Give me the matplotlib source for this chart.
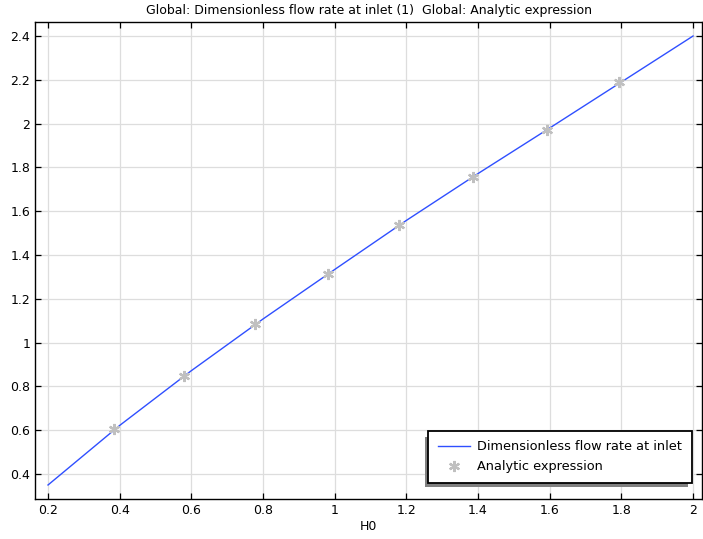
import matplotlib
matplotlib.use("Agg")
import matplotlib.pyplot as plt
from matplotlib.patches import Rectangle
from matplotlib.transforms import IdentityTransform

# line: dimensionless flow rate at inlet
h0_line = [0.2, 0.4, 0.6, 0.8, 1.0, 1.2, 1.4, 1.6, 1.8, 2.0]
q_line = [0.35, 0.622, 0.872, 1.108, 1.334, 1.558, 1.772, 1.98, 2.19, 2.40]

# markers: analytic expression
h0_pts = [0.384, 0.580, 0.778, 0.981, 1.180, 1.386, 1.592, 1.794]
q_pts = [0.604, 0.849, 1.085, 1.313, 1.537, 1.756, 1.971, 2.189]

xticks = [0.2, 0.4, 0.6, 0.8, 1, 1.2, 1.4, 1.6, 1.8, 2]
yticks = [0.4, 0.6, 0.8, 1, 1.2, 1.4, 1.6, 1.8, 2, 2.2, 2.4]

fig = plt.figure(figsize=(7.03, 5.39), dpi=100)
ax = fig.add_axes([0.0498, 0.0742, 0.9488, 0.885])

ax.plot(h0_line, q_line, color='#2f4fff', lw=1.0, label='Dimensionless flow rate at inlet')
ax.plot(h0_pts, q_pts, ls='none', marker=(6, 2, 0), ms=8, mew=1.6,
        color='#c0c0c0', label='Analytic expression')

ax.set_xlim(0.1637, 2.025)
ax.set_ylim(0.286, 2.464)
ax.set_xticks(xticks)
ax.set_xticklabels([f'{v:g}' for v in xticks])
ax.set_yticks(yticks)
ax.set_yticklabels([f'{v:g}' for v in yticks])
ax.grid(True, color='#dddddd', lw=0.9)
ax.set_axisbelow(True)
ax.tick_params(direction='in', top=True, right=True, labelsize=9, length=4, width=0.9)
for s in ax.spines.values():
    s.set_linewidth(1.0)

ax.set_xlabel('H0', fontsize=9, labelpad=2)
ax.set_title('Global: Dimensionless flow rate at inlet (1)  Global: Analytic expression',
             fontsize=9, pad=6)

# legend box placed at lower right, shadow drawn by hand (down-left offset)
leg = ax.legend(loc='lower right', bbox_to_anchor=(0.985, 0.0335), borderaxespad=0,
                fontsize=9.3, frameon=True, fancybox=False, shadow=False,
                edgecolor='black', framealpha=1, borderpad=0.75, labelspacing=0.55,
                handlelength=2.45, handletextpad=0.6)
leg.get_frame().set_linewidth(1.3)
leg.set_zorder(5)

fig.canvas.draw()
bb = leg.get_window_extent()
shadow = Rectangle((bb.x0 - 3, bb.y0 - 4), bb.width - 1, bb.height - 2,
                   transform=IdentityTransform(), facecolor='#808080',
                   edgecolor='none', zorder=4, clip_on=False)
ax.add_artist(shadow)

fig.savefig('out.png', dpi=100)
